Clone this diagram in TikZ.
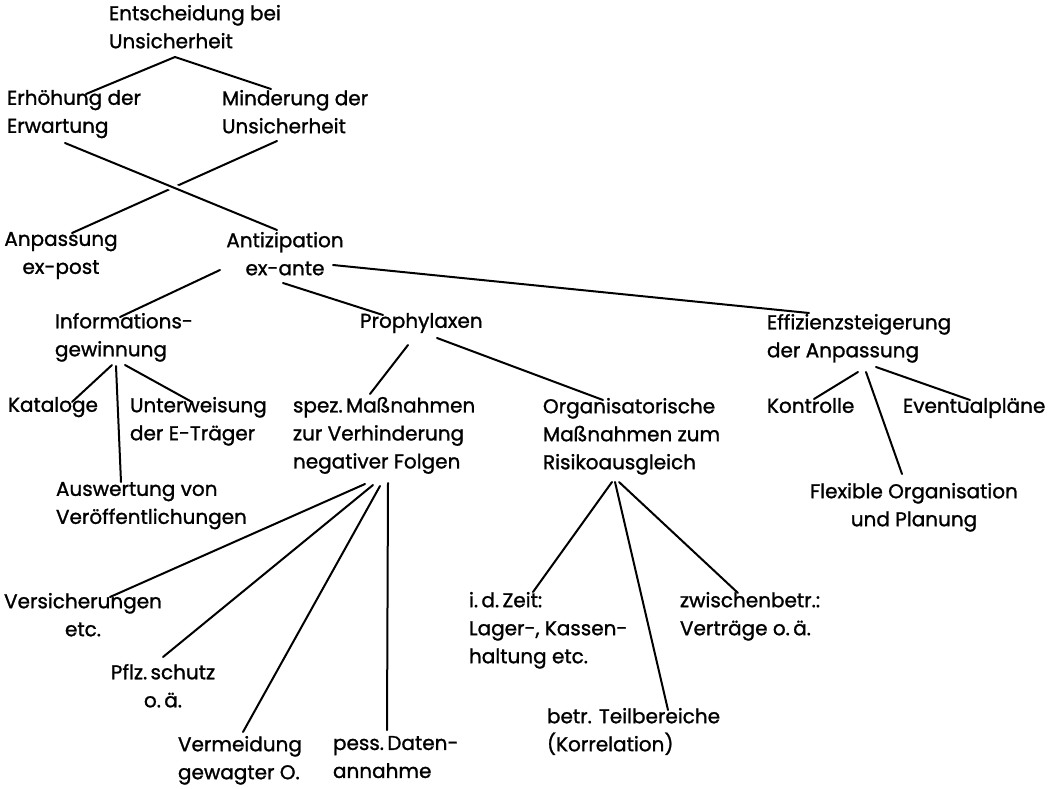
\documentclass[tikz,border=0pt]{standalone}
\usepackage{fontspec}
\setmainfont{Poppins}[FakeBold=1.2]
\usetikzlibrary{calc}
\begin{document}
\begin{tikzpicture}[x=1pt,y=-1pt,
  lbl/.style={inner sep=0pt,outer sep=0pt,font=\fontsize{20}{28}\selectfont,align=left,anchor=north west,yshift=20pt},
  clbl/.style={lbl,align=center,anchor=north},
  conn/.style={line width=2pt,line cap=round},
  over/.style={conn,preaction={draw=white,line width=7pt,line cap=butt}}]
\useasboundingbox[fill=white] (0,0) rectangle (1062,789);
% nodes (x, first baseline)
\node[lbl]  (ent)  at (109,25)  {Entscheidung bei\\Unsicherheit};
\node[lbl]  (erh)  at (7,110)   {Erhöhung der\\Erwartung};
\node[lbl]  (min)  at (222,110) {Minderung der\\Unsicherheit};
\node[clbl] (anp)  at (61,252)  {Anpassung\\ex-post};
\node[clbl] (ant)  at (285,252) {Antizipation\\ex-ante};
\node[lbl]  (inf)  at (55,333)  {Informations-\\gewinnung};
\node[lbl]  (pro)  at (360,333) {Prophylaxen};
\node[lbl]  (eff)  at (767,334) {Effizienzsteigerung\\der Anpassung};
\node[lbl]  (kat)  at (8,417)   {Kataloge};
\node[lbl]  (unt)  at (130,417) {Unterweisung\\der E-Träger};
\node[lbl]  (spez) at (293,417) {spez.\,Maßnahmen\\zur Verhinderung\\negativer Folgen};
\node[lbl]  (org)  at (543,418) {Organisatorische\\Maßnahmen zum\\Risikoausgleich};
\node[lbl]  (kon)  at (767,418) {Kontrolle};
\node[lbl]  (evp)  at (903,418) {Eventualpläne};
\node[clbl] (flex) at (914,503) {Flexible Organisation\\und Planung};
\node[lbl]  (ausw) at (56,502)  {Auswertung von\\Veröffentlichungen};
\node[clbl] (vers) at (83,613)  {Versicherungen\\etc.};
\node[clbl] (pflz) at (163,684) {Pflz.\,schutz\\o.\,ä.};
\node[lbl]  (verm) at (178,756) {Vermeidung\\gewagter O.};
\node[lbl]  (pess) at (333,756) {pess.\,Daten-\\annahme};
\node[lbl]  (idz)  at (469,612) {i.\,d.\,Zeit:\\Lager-, Kassen-\\haltung etc.};
\node[lbl]  (zw)   at (680,612) {zwischenbetr.:\\Verträge o.\,ä.};
\node[lbl]  (betr) at (547,728) {betr. Teilbereiche\\(Korrelation)};
% connectors
\draw[conn] ([shift={(66,52)}]ent.north west) -- ([shift={(79,4)}]erh.north west);
\draw[conn] ([shift={(66,52)}]ent.north west) -- ([shift={(49,-1)}]min.north west);
\draw[conn] ([shift={(55,51)}]min.north west) -- ([shift={(11,1)}]anp.north);
\draw[over] ([shift={(58,53)}]erh.north west) -- ([shift={(-8,-2)}]ant.north);
\draw[conn] ([shift={(-65,38)}]ant.north) -- ([shift={(65,4)}]inf.north west);
\draw[conn] ([shift={(-2,51)}]ant.north) -- ([shift={(23,2)}]pro.north west);
\draw[conn] ([shift={(48,33)}]ant.north) -- ([shift={(42,-1)}]eff.north west);
\draw[conn] ([shift={(57,52)}]inf.north west) -- ([shift={(64,5)}]kat.north west);
\draw[conn] ([shift={(61,53)}]inf.north west) -- ([shift={(65,0)}]ausw.north west);
\draw[conn] ([shift={(70,52)}]inf.north west) -- ([shift={(62,5)}]unt.north west);
\draw[conn] ([shift={(48,32)}]pro.north west) -- ([shift={(77,-3)}]spez.north west);
\draw[conn] ([shift={(77,25)}]pro.north west) -- ([shift={(60,2)}]org.north west);
\draw[conn] ([shift={(91,58)}]eff.north west) -- ([shift={(47,1)}]kon.north west);
\draw[conn] ([shift={(99,58)}]eff.north west) -- ([shift={(-12,-9)}]flex.north);
\draw[conn] ([shift={(109,53)}]eff.north west) -- ([shift={(67,2)}]evp.north west);
\draw[conn] ([shift={(72,87)}]spez.north west) -- ([shift={(27,4)}]vers.north);
\draw[conn] ([shift={(80,88)}]spez.north west) -- ([shift={(0,-7)}]pflz.north);
\draw[conn] ([shift={(87,89)}]spez.north west) -- ([shift={(65,-4)}]verm.north west);
\draw[conn] ([shift={(95,86)}]spez.north west) -- ([shift={(54,-6)}]pess.north west);
\draw[conn] ([shift={(69,84)}]org.north west) -- ([shift={(64,0)}]idz.north west);
\draw[conn] ([shift={(72,84)}]org.north west) -- ([shift={(121,2)}]betr.north west);
\draw[conn] ([shift={(76,84)}]org.north west) -- ([shift={(58,1)}]zw.north west);
\end{tikzpicture}
\end{document}
